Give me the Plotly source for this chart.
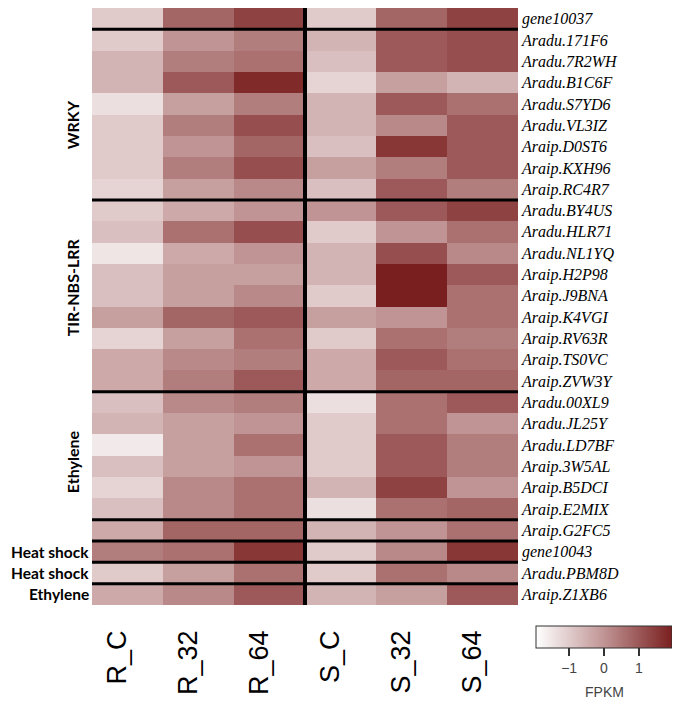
import plotly.graph_objects as go

samples = ["R_C", "R_32", "R_64", "S_C", "S_32", "S_64"]
genes = ["gene10037", "Aradu.171F6", "Aradu.7R2WH", "Aradu.B1C6F", "Aradu.S7YD6",
         "Aradu.VL3IZ", "Araip.D0ST6", "Araip.KXH96", "Araip.RC4R7", "Aradu.BY4US",
         "Aradu.HLR71", "Aradu.NL1YQ", "Araip.H2P98", "Araip.J9BNA", "Araip.K4VGI",
         "Araip.RV63R", "Araip.TS0VC", "Araip.ZVW3Y", "Aradu.00XL9", "Aradu.JL25Y",
         "Aradu.LD7BF", "Araip.3W5AL", "Araip.B5DCI", "Araip.E2MIX", "Araip.G2FC5",
         "gene10043", "Aradu.PBM8D", "Araip.Z1XB6"]

# FPKM z-scores per sample (column), rows in gene order
R_C  = [-0.98, -0.98, -0.59, -0.59, -1.37, -0.98, -0.98, -0.98, -1.17, -0.98,
        -0.78, -1.48, -0.78, -0.78, -0.20, -1.17, -0.39, -0.39, -0.78, -0.59,
        -1.56, -0.78, -1.17, -0.78, -0.39, 0.39, -0.98, -0.39]
R_32 = [0.78, 0.00, 0.39, 0.98, -0.20, 0.39, 0.00, 0.39, -0.20, -0.39,
        0.59, -0.39, -0.20, -0.20, 0.78, -0.20, 0.20, 0.39, 0.20, -0.20,
        -0.20, -0.20, 0.20, 0.20, 0.78, 0.59, -0.20, 0.20]
R_64 = [1.37, 0.39, 0.59, 1.76, 0.39, 1.17, 0.78, 1.17, 0.20, 0.00,
        1.17, 0.00, -0.20, 0.20, 0.98, 0.59, 0.39, 0.98, 0.39, 0.00,
        0.59, 0.00, 0.59, 0.59, 0.78, 1.56, 0.59, 0.98]
S_C  = [-0.98, -0.59, -0.78, -1.17, -0.59, -0.59, -0.78, -0.20, -0.78, 0.00,
        -0.98, -0.59, -0.59, -0.98, -0.20, -0.98, -0.39, -0.39, -1.37, -0.98,
        -0.98, -0.98, -0.59, -1.37, -0.59, -0.98, -0.98, -0.59]
S_32 = [0.78, 0.98, 0.98, -0.20, 0.98, 0.20, 1.56, 0.39, 0.98, 0.98,
        0.00, 1.17, 1.95, 1.95, 0.00, 0.59, 0.98, 0.78, 0.59, 0.59,
        0.98, 0.98, 1.37, 0.59, 0.00, 0.20, 0.59, -0.20]
S_64 = [1.37, 1.17, 1.17, -0.59, 0.59, 0.98, 0.98, 0.98, 0.39, 1.37,
        0.59, 0.20, 0.98, 0.59, 0.59, 0.39, 0.59, 0.78, 0.98, 0.00,
        0.39, 0.39, 0.00, 0.78, 0.59, 1.56, 0.20, 0.98]

# separators drawn after these row indices (between groups)
row_breaks = [0.5, 8.5, 17.5, 23.5, 24.5, 25.5, 26.5]
col_break = 2.5

# group labels: (text, centre row, rotated)
groups = [("WRKY", 5.0, True), ("TIR-NBS-LRR", 12.6, True), ("Ethylene", 20.8, True),
          ("Heat shock", 25, False), ("Heat shock", 26, False), ("Ethylene", 27, False)]

cols = [R_C, R_32, R_64, S_C, S_32, S_64]
z = [[cols[j][i] for j in range(len(samples))] for i in range(len(genes))]

# page body has an 8px margin; express positions in window pixels
W, H = 664, 691
def SX(sx):
    return (sx - 8) / W
def SY(sy):
    return 1 - (sy - 8) / H

fig = go.Figure()
fig.add_trace(go.Heatmap(
    z=z, x=list(range(len(samples))), y=list(range(len(genes))),
    zmin=-1.95, zmax=1.95,
    colorscale=[[0, "#FFFFFF"], [0.5, "#C09494"], [1, "#7A1F1F"]],
    colorbar=dict(orientation="h", x=SX(604), xanchor="center",
                  y=SY(626), yanchor="top",
                  len=136, lenmode="pixels", thickness=22,
                  xpad=0, ypad=0, outlinewidth=1, outlinecolor="#333",
                  tickvals=[-1, 0, 1], ticks="outside", ticklen=8, tickwidth=2,
                  tickcolor="#333",
                  tickfont=dict(family="Liberation Sans", size=14, color="#444")),
))

fig.add_annotation(text="FPKM", xref="paper", yref="paper", x=SX(604), y=SY(692),
                   showarrow=False, xanchor="center", yanchor="middle",
                   font=dict(family="Liberation Sans", size=14, color="#444"))

for yb in row_breaks:
    fig.add_shape(type="line", xref="x", yref="y", x0=-0.5, x1=5.5, y0=yb, y1=yb,
                  line=dict(color="black", width=3))
fig.add_shape(type="line", xref="x", yref="y", x0=col_break, x1=col_break, y0=-0.5, y1=27.5,
              line=dict(color="black", width=4))

for text, yc, rot in groups:
    if rot:
        fig.add_annotation(text="<b>%s</b>" % text, xref="paper", yref="y",
                           x=SX(72), y=yc, textangle=-90, showarrow=False,
                           xanchor="center", yanchor="middle",
                           font=dict(family="Lato", size=16, color="black"))
    else:
        fig.add_annotation(text="<b>%s</b>" % text, xref="paper", yref="y",
                           x=SX(91), y=yc, showarrow=False,
                           xanchor="right", yanchor="middle",
                           font=dict(family="Lato", size=15.5, color="black"))

fig.update_xaxes(domain=[SX(92), SX(518)], range=[-0.5, 5.5],
                 tickvals=list(range(len(samples))), ticktext=samples,
                 tickangle=-90, ticklabelstandoff=19, ticklabelshift=-10,
                 tickfont=dict(family="Liberation Sans", size=27, color="black"),
                 showgrid=False, zeroline=False, showline=False, automargin=False)
fig.update_yaxes(domain=[SY(605), SY(8)], range=[27.5, -0.5],
                 tickvals=list(range(len(genes))),
                 ticktext=["<i>%s</i>" % g for g in genes], side="right",
                 ticklabelstandoff=3,
                 tickfont=dict(family="Liberation Serif", size=16, color="black"),
                 showgrid=False, zeroline=False, showline=False, automargin=False)

fig.update_layout(width=W, height=H, margin=dict(l=0, r=0, t=0, b=0),
                  paper_bgcolor="white", plot_bgcolor="white", showlegend=False)
fig.write_html("out.html")
